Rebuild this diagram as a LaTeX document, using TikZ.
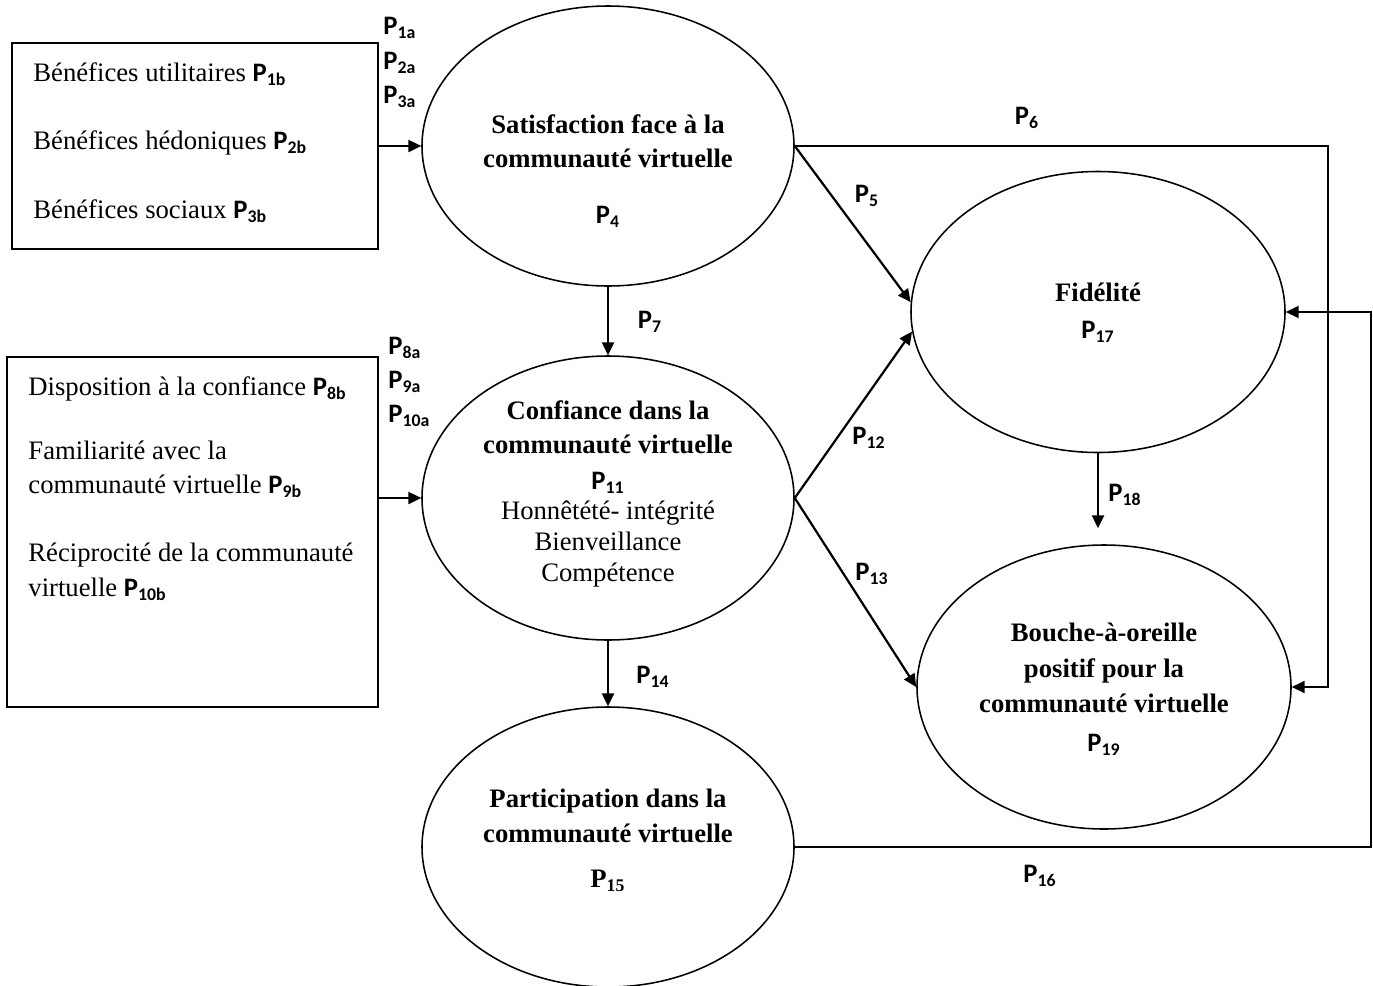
\documentclass[tikz,border=0pt]{standalone}
\usepackage{fontspec}
\setmainfont{Liberation Serif}
\newfontfamily\calibri{Carlito}
\usepackage{tikz}
\usetikzlibrary{positioning, calc}
\usetikzlibrary{arrows.meta}
\usetikzlibrary{shapes}

\newcommand{\Pn}[1]{{\calibri\bfseries P\textsubscript{#1}}}

\begin{document}
\begin{tikzpicture}[x=0.45pt,y=-0.45pt,>={Triangle[length=5.8pt,width=5.4pt]},font=\fontsize{12}{15.5}\selectfont]
	\def\px{0.45pt}
	\tikzstyle{e-node}=[ellipse,draw=black!100,line width=0.7pt,inner sep=0pt,minimum width=372*\px,minimum height=280*\px]
	\tikzstyle{b-node}=[rectangle,draw=black!100,line width=0.8pt,inner sep=0pt]
	\tikzstyle{e-text}=[align=center,inner sep=0pt,font=\fontsize{12}{15.5}\selectfont\bfseries]
	\tikzstyle{b-text}=[align=left,inner sep=0pt,anchor=north west]
	\tikzstyle{p-lab}=[inner sep=0pt]
	\tikzstyle{arr}=[->,line width=1pt]
	\tikzstyle{long-arr}=[->,line width=0.8pt]
	\useasboundingbox (0,0) rectangle (1373,986);

	% boxes
	\node[b-node,minimum width=366*\px,minimum height=206*\px] (benef) at (195,146) {};
	\node[b-node,minimum width=371*\px,minimum height=350*\px] (antec) at (192.5,532) {};
	\node[b-text] (benef-text) at (33,62) {B\'en\'efices utilitaires \Pn{1b}\\[15.3pt]
		B\'en\'efices h\'edoniques \Pn{2b}\\[15.3pt]
		B\'en\'efices sociaux \Pn{3b}};
	\node[b-text] (antec-text) at (28,376) {Disposition \`a la confiance \Pn{8b}\\[13.3pt]
		Familiarit\'e avec la\\
		communaut\'e virtuelle \Pn{9b}\\[15.1pt]
		R\'eciprocit\'e de la communaut\'e\\
		virtuelle \Pn{10b}};

	% ellipses
	\node[e-node] (sat) at (608,146) {};
	\node[e-node,minimum height=284*\px] (conf) at (608,498) {};
	\node[e-node] (part) at (608,847) {};
	\node[e-node,minimum width=374*\px,minimum height=281*\px] (fid) at (1098,312) {};
	\node[e-node,minimum width=374*\px,minimum height=284*\px] (bouche) at (1104,687) {};

	\node[e-text,anchor=north] (sat-text) at (608,114) {Satisfaction face \`a la\\communaut\'e virtuelle\\[9.7pt]\Pn{4}};
	\node[e-text,anchor=north] (conf-text) at (608,400) {Confiance dans la\\communaut\'e virtuelle\\[0.7pt]\Pn{11}\\[-2pt]
		\normalfont Honn\^et\'et\'e- int\'egrit\'e\\[-1.5pt]\normalfont Bienveillance\\[-1.5pt]\normalfont Comp\'etence};
	\node[e-text,anchor=north] (fid-text) at (1098,283) {Fid\'elit\'e\\[1pt]\Pn{17}};
	\node[e-text,anchor=north] (bouche-text) at (1104,623) {Bouche-\`a-oreille\\[0.7pt]positif pour la\\communaut\'e virtuelle\\[2pt]\Pn{19}};
	\node[e-text,anchor=north] (part-text) at (608,789) {Participation dans la\\communaut\'e virtuelle\\[4.7pt]P\textsubscript{15}};

	% labels
	\node[p-lab,anchor=west] (l1a) at (383,28) {\Pn{1a}};
	\node[p-lab,anchor=west] (l2a) at (383,63) {\Pn{2a}};
	\node[p-lab,anchor=west] (l3a) at (383,97) {\Pn{3a}};
	\node[p-lab,anchor=west] (l8a) at (388,348) {\Pn{8a}};
	\node[p-lab,anchor=west] (l9a) at (388,382) {\Pn{9a}};
	\node[p-lab,anchor=west] (l10a) at (388,416) {\Pn{10a}};
	\node[p-lab] (l5) at (867,196) {\Pn{5}};
	\node[p-lab] (l6) at (1027,118) {\Pn{6}};
	\node[p-lab] (l7) at (650,322) {\Pn{7}};
	\node[p-lab] (l12) at (869,438) {\Pn{12}};
	\node[p-lab] (l13) at (872,574) {\Pn{13}};
	\node[p-lab] (l14) at (653,677) {\Pn{14}};
	\node[p-lab] (l16) at (1040,876) {\Pn{16}};
	\node[p-lab] (l18) at (1125,495) {\Pn{18}};

	% corners of the long lines
	\coordinate (p6x) at (1328,0);
	\coordinate (p16x) at (1371,0);

	% connectors
	\draw[arr] (benef.east |- sat.west) -- (sat.west);
	\draw[arr] (conf.west -| antec.east) -- (conf.west);
	\path[arr] (sat) edge (conf)
		(conf) edge (part);
	\draw[arr] (sat.east) -- (fid.177);
	\draw[arr] (conf.east) -- (fid.186);
	\draw[arr] (conf.east) -- (bouche.west);
	\draw[arr,shorten >=7.2pt] (fid.south) -- (fid.south |- bouche.north);
	\draw[long-arr] (sat.east) -- (sat.east -| p6x) |- (bouche.east);
	\draw[long-arr] (part.east) -- (part.east -| p16x) |- (fid.east);
\end{tikzpicture}
\end{document}
